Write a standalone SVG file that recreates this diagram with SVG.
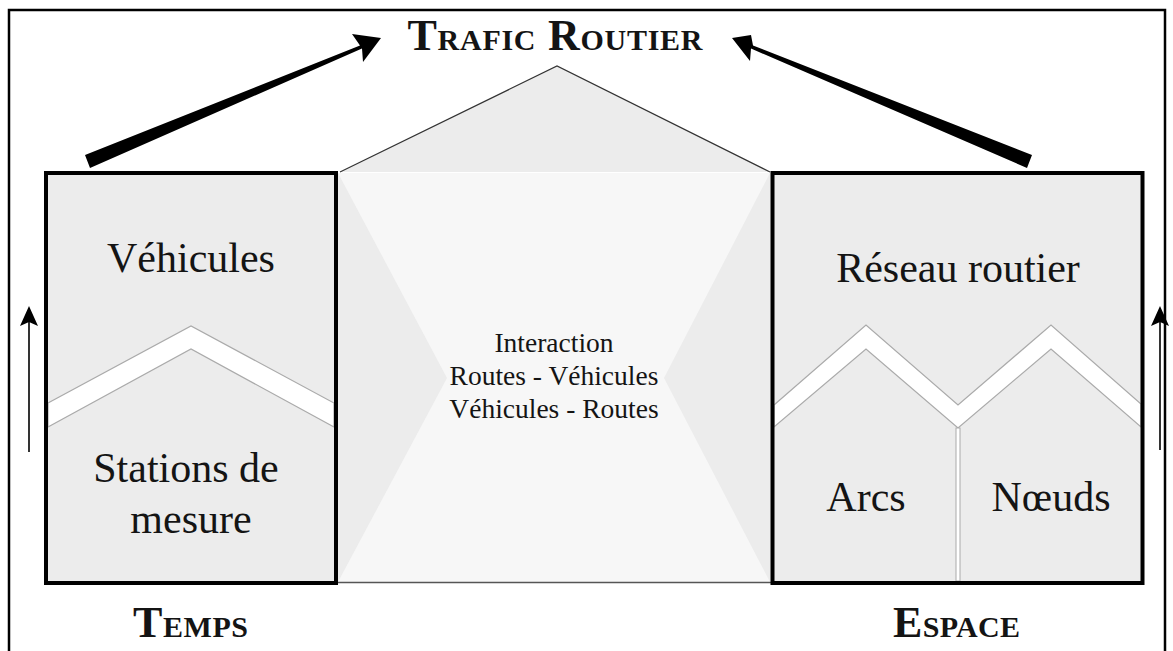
<svg xmlns="http://www.w3.org/2000/svg" width="1173" height="651" viewBox="0 0 1173 651">
<defs>
<style>
.t{font-family:"Liberation Serif","Times New Roman",serif;fill:#141414;text-anchor:middle}
.big{font-size:42px}
.mid{font-size:27.5px}
.hd{font-weight:bold;font-size:44px}
.sc{font-size:30px}
.box{fill:none;stroke:#000;stroke-width:4}
.band{fill:#fff;stroke:#aaa;stroke-width:1.2}
.thin{stroke:#000;stroke-width:1.6;fill:none}
</style>
<marker id="ah" viewBox="0 0 20 18" refX="18" refY="9" markerWidth="20" markerHeight="18" markerUnits="userSpaceOnUse" orient="auto">
<path d="M0,0 L20,9 L0,18 L4,9 Z" fill="#000"/>
</marker>
</defs>
<rect width="1173" height="651" fill="#fff"/>
<rect x="9" y="10" width="1156" height="660" fill="none" stroke="#000" stroke-width="2.5"/>

<g id="centre">
<rect x="336" y="173" width="436" height="410" fill="#f7f7f7"/>
<polygon points="338,173 447,378 338,582" fill="#ececec"/>
<polygon points="770,173 664,378 770,582" fill="#ececec"/>
<polygon points="340,172 557,66 770,172" fill="#ececec"/>
<polyline points="340,172 557,66 770,172" fill="none" stroke="#333" stroke-width="1.2"/>
<line x1="336" y1="582.5" x2="772" y2="582.5" stroke="#555" stroke-width="1.5"/>
<text class="t mid" x="554" y="352">Interaction</text>
<text class="t mid" x="554" y="385">Routes - Véhicules</text>
<text class="t mid" x="554" y="418">Véhicules - Routes</text>
</g>

<g id="temps">
<rect x="46" y="173" width="290" height="410" fill="#ececec"/>
<polygon class="band" points="48,403 191,326 334,403 334,427 191,349 48,427"/>
<rect class="box" x="46" y="173" width="290" height="410"/>
<text class="t big" x="191" y="272">Véhicules</text>
<text class="t big" x="186" y="482">Stations de</text>
<text class="t big" x="191" y="533">mesure</text>
</g>

<g id="espace">
<rect x="772.5" y="173" width="370" height="410" fill="#ececec"/>
<polygon class="band" points="774,405 866,325 958,405 1051,325 1141,404 1141,427 1051,349 958,428 866,349 774,427"/>
<rect x="956" y="428" width="4" height="153" fill="#fff" stroke="#aaa" stroke-width="1"/>
<rect class="box" x="772.5" y="173" width="370" height="410"/>
<text class="t big" x="958" y="282">Réseau routier</text>
<text class="t big" x="866" y="511">Arcs</text>
<text class="t big" x="1051" y="511">Nœuds</text>
</g>

<g id="titres">
<text class="t hd" x="555" y="50" textLength="295" lengthAdjust="spacing">T<tspan class="sc">RAFIC</tspan> R<tspan class="sc">OUTIER</tspan></text>
<text class="t hd" x="190.5" y="637" textLength="115" lengthAdjust="spacing">T<tspan class="sc">EMPS</tspan></text>
<text class="t hd" x="956.5" y="637" textLength="127" lengthAdjust="spacing">E<tspan class="sc">SPACE</tspan></text>
</g>

<g id="connecteurs">
<polygon points="85,155 360,45.5 352,34 381,38 363,62 362,48.5 90,168" fill="#000"/>
<polygon points="1032,155 753,45.5 751,35 732,38 750,61 751,48.5 1027,168" fill="#000"/>
<line class="thin" x1="29" y1="452" x2="29" y2="308" marker-end="url(#ah)"/>
<line class="thin" x1="1160" y1="450" x2="1160" y2="308" marker-end="url(#ah)"/>
</g>
</svg>
